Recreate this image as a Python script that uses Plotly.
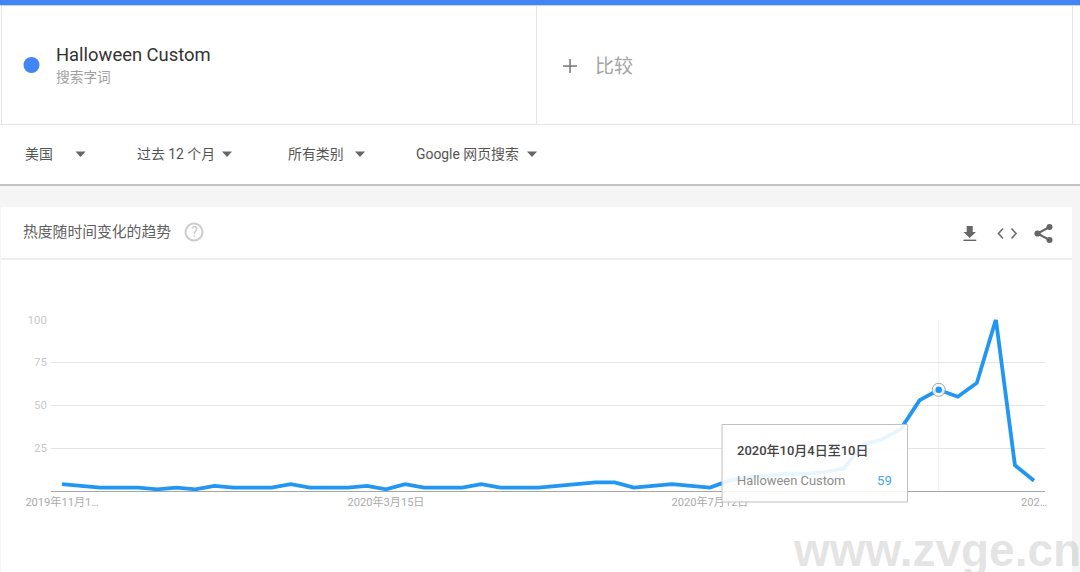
import plotly.graph_objects as go

W, H = 1080, 572
FONT = "Roboto, 'Noto Sans CJK SC', sans-serif"

# ---- data ----
weeks = [
    "2019-11-17", "2019-11-24", "2019-12-01", "2019-12-08", "2019-12-15", "2019-12-22", "2019-12-29",
    "2020-01-05", "2020-01-12", "2020-01-19", "2020-01-26", "2020-02-02", "2020-02-09", "2020-02-16",
    "2020-02-23", "2020-03-01", "2020-03-08", "2020-03-15", "2020-03-22", "2020-03-29", "2020-04-05",
    "2020-04-12", "2020-04-19", "2020-04-26", "2020-05-03", "2020-05-10", "2020-05-17", "2020-05-24",
    "2020-05-31", "2020-06-07", "2020-06-14", "2020-06-21", "2020-06-28", "2020-07-05", "2020-07-12",
    "2020-07-19", "2020-07-26", "2020-08-02", "2020-08-09", "2020-08-16", "2020-08-23", "2020-08-30",
    "2020-09-06", "2020-09-13", "2020-09-20", "2020-09-27", "2020-10-04", "2020-10-11", "2020-10-18",
    "2020-10-25", "2020-11-01", "2020-11-08",
]
interest = [
    4, 3, 2, 2, 2, 1, 2, 1, 3, 2, 2, 2, 4, 2, 2, 2, 3, 1, 4, 2, 2, 2, 4, 2, 2, 2,
    3, 4, 5, 5, 2, 3, 4, 3, 2, 6, 8, 9, 10, 10, 11, 13, 27, 30, 36, 53, 59, 55, 63, 100, 15, 6,
]
series_name = "Halloween Custom"
highlight_date = "2020-10-04"
highlight_value = 59
highlight_label = "2020年10月4日至10日"
y_ticks = [25, 50, 75, 100]
x_tick_dates = ["2019-11-17", "2020-03-15", "2020-07-12", "2020-11-08"]
x_tick_labels = ["2019年11月1…", "2020年3月15日", "2020年7月12日", "202…"]
filters = ["美国", "过去 12 个月", "所有类别", "Google 网页搜索"]
compare_label = "比较"
term_type = "搜索字词"
card_title = "热度随时间变化的趋势"
watermark = "www.zvge.cn"

# ---- pixel helpers for the page furniture ----
def px(x):
    return x / W

def py(y):
    return 1 - y / H

shapes = []

def rect(x0, y0, x1, y1, fill, layer="below", line=None, lw=0):
    shapes.append(dict(type="rect", xref="paper", yref="paper", x0=px(x0), x1=px(x1), y0=py(y0), y1=py(y1),
                       fillcolor=fill, line=dict(color=line or fill, width=lw), layer=layer))

def circle(cx, cy, r, fill="rgba(0,0,0,0)", line=None, lw=0):
    shapes.append(dict(type="circle", xref="paper", yref="paper", x0=px(cx - r), x1=px(cx + r), y0=py(cy - r),
                       y1=py(cy + r), fillcolor=fill, line=dict(color=line or fill, width=lw), layer="below"))

def poly(points, fill=None, line=None, lw=0, close=True):
    d = "M " + " L ".join(f"{px(a):.5f} {py(b):.5f}" for a, b in points) + (" Z" if close else "")
    shapes.append(dict(type="path", xref="paper", yref="paper", path=d, fillcolor=fill or "rgba(0,0,0,0)",
                       line=dict(color=line or "rgba(0,0,0,0)", width=lw), layer="below"))

annotations = []

def text(x, y, s, size, color, anchor="left", weight=None, family=FONT):
    annotations.append(dict(xref="paper", yref="paper", x=px(x), y=py(y), text=s, showarrow=False, xanchor=anchor,
                            yanchor="middle", borderpad=0, borderwidth=0,
                            font=dict(size=size, color=color, family=family, weight=weight or 400)))

# page background pieces
rect(0, 5, 1080, 124, "#ffffff")
rect(0, 124, 1080, 184, "#ffffff")
rect(0, 184, 1080, 186, "#c4c4c4")
rect(1, 207, 1072, 572, "#ffffff")
rect(0, 0, 1080, 5, "#4285f4")
rect(0, 5, 1080, 6, "#c9d3e3")
rect(1, 6, 2, 124, "#e6e6e6")
rect(536, 6, 537, 124, "#e6e6e6")
rect(1072, 6, 1073, 124, "#e6e6e6")
rect(0, 124, 1080, 125, "#e6e6e6")
rect(1, 258, 1072, 260, "#eeeeee")

# search term cell
circle(31.5, 65, 8, fill="#4285f4")
text(56, 55, series_name, 18.4, "#333333")
text(56, 77, term_type, 13.7, "#a0a0a0")
# compare cell
rect(563, 65.3, 577, 66.8, "#757575")
rect(569.3, 59, 570.8, 73, "#757575")
text(595, 67, compare_label, 19, "#a3a3a3")

# filters
filter_x = [25, 137, 288, 416]
arrow_x = [80.5, 227, 360, 532]
for label, fx, ax in zip(filters, filter_x, arrow_x):
    text(fx, 154, label, 13.9, "#555555")
    poly([(ax - 5, 151.5), (ax + 5, 151.5), (ax, 157)], fill="#666666")

# card header
text(23, 232, card_title, 14.8, "#5f5f5f")
circle(194, 232, 8.5, line="#cccccc", lw=2)
text(194, 232, "?", 14.5, "#c8c8c8", anchor="center")

# download icon
poly([(966.7, 226), (972.7, 226), (972.7, 232), (976, 232), (969.7, 238), (963.4, 232), (966.7, 232)], fill="#666666")
rect(963.4, 239.6, 976.2, 241, "#666666")
# embed icon
poly([(1003, 228.5), (998.5, 233.5), (1003, 238.5)], line="#757575", lw=1.8, close=False)
poly([(1011.5, 228.5), (1016, 233.5), (1011.5, 238.5)], line="#757575", lw=1.8, close=False)
# share icon
poly([(1049.5, 227), (1037.5, 233.5), (1049.5, 240)], line="#666666", lw=2, close=False)
circle(1037.5, 233.5, 3.1, fill="#666666")
circle(1049.5, 227, 3, fill="#666666")
circle(1049.5, 240, 3, fill="#666666")

# crosshair at the hovered week
shapes.append(dict(type="line", xref="x", yref="y", x0=highlight_date, x1=highlight_date, y0=0, y1=100,
                   line=dict(color="#efefef", width=1), layer="below"))

# tooltip box above the line
rect(722, 424.5, 907.5, 502, "rgba(255,255,255,0.9)", layer="above", line="#c0c0c0", lw=1)
text(737, 450, highlight_label, 13, "#444444", weight=500)
text(737, 480.5, series_name, 12.9, "#8c8c8c")
text(892, 480.5, str(highlight_value), 13.3, "#42a5f5", anchor="right")

# watermark
text(793, 550, watermark, 46, "rgba(170,170,170,0.32)", weight=700, family="'Liberation Sans', Arial, sans-serif")

fig = go.Figure()
fig.add_trace(go.Scatter(x=weeks, y=interest, mode="lines", name=series_name,
                         line=dict(color="#2196f3", width=3.8), hoverinfo="skip"))
fig.add_trace(go.Scatter(x=[highlight_date], y=[highlight_value], mode="markers", showlegend=False,
                         marker=dict(size=13, color="rgba(255,255,255,0.8)", line=dict(color="#8fa6b8", width=1)),
                         hoverinfo="skip"))
fig.add_trace(go.Scatter(x=[highlight_date], y=[highlight_value], mode="markers", showlegend=False,
                         marker=dict(size=6.5, color="#2196f3"), hoverinfo="skip"))

fig.update_layout(
    width=W, height=H, margin=dict(l=0, r=0, t=0, b=0, autoexpand=False), autosize=False, showlegend=False,
    paper_bgcolor="#f5f5f5", plot_bgcolor="rgba(0,0,0,0)", font=dict(family=FONT),
    shapes=shapes, annotations=annotations,
    xaxis=dict(type="date", domain=[px(51), px(1045)], range=["2019-11-12 23:00", "2020-11-12 01:00"],
               tickmode="array", tickvals=x_tick_dates, ticktext=x_tick_labels, showgrid=False, showline=True,
               linecolor="#a6a6a6", linewidth=1, ticks="", tickfont=dict(size=11.1, color="#ababab"),
               ticklabelstandoff=1, zeroline=False),
    yaxis=dict(domain=[py(491), py(319.5)], range=[0, 100], tickmode="array", tickvals=y_ticks,
               showgrid=True, gridcolor="#e4e4e4", gridwidth=1, zeroline=False, ticks="",
               tickfont=dict(size=11.5, color="#c8c8c8"), ticklabelstandoff=3),
)

fig.write_html("out.html", config=dict(displayModeBar=False, staticPlot=True),
               post_script="document.body.style.margin='0';document.body.style.overflow='hidden';")
